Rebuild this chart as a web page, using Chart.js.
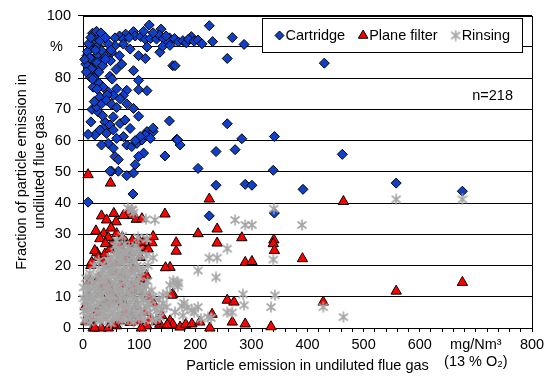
<!DOCTYPE html>
<html>
<head>
<meta charset="utf-8">
<script src="https://cdn.jsdelivr.net/npm/chart.js@4"></script>
<style>
  html, body { margin: 0; padding: 0; background: #fff; }
  #wrap { width: 559px; height: 378px; }
</style>
</head>
<body>
<div id="wrap"><canvas id="chart" width="559" height="378"></canvas></div>
<script>
// valores: [emision mg/Nm3, fraccion %]
const seriesNames = ['Cartridge', 'Plane filter', 'Rinsing'];

const cartridge = [
  [118,97.0],[139,95.7],[90,94.9],[76,94.1],[65,93.5],[57,92.9],[72,92.5],[93,93.5],[103,93.3],[111,92.5],
  [120,92.7],[131,92.5],[136,93.8],[143,92.7],[154,92.9],[163,92.7],[170,91.6],[152,91.4],[137,88.3],[160,84.0],
  [142,90.2],[114,90.0],[99,87.2],[111,86.3],[90,82.4],[99,79.3],[114,76.0],[99,76.3],[78,76.1],[59,82.8],
  [69,84.5],[49,85.6],[65,87.2],[51,88.3],[84,89.3],[72,90.9],[57,90.4],[45,88.3],[36,87.7],[30,85.6],
  [18,85.1],[10,84.0],[7,87.2],[13,89.3],[18,91.4],[21,93.5],[17,94.4],[27,90.4],[33,88.8],[24,87.2],
  [16,86.1],[21,82.4],[13,80.3],[27,78.7],[18,77.1],[36,77.1],[45,75.6],[54,74.5],[60,76.6],[72,74.5],
  [30,74.0],[5,84.5],[8,88.5],[12,86.5],[10,91],[15,83],[22,89],[25,85],[30,92],[14,93],
  [35,84],[40,86],[45,91],[50,89],[20,80],[28,82],[3,86],[6,82],[24,95],[32,94.5],
  [40,93],[193,93.3],[178,92],[184,91.3],[188,92.5],[198,91.8],[205,92.2],[212,91],[231,91.7],[225,96.8],
  [266,93],[287,90.8],[257,86.3],[164,84],[430,84.8],[155,90.5],[148,93.5],[125,94.5],[108,95],[82,93],
  [17,79.7],[25,76.5],[43,74.6],[48,80.6],[52,79.7],
  [16,70],[27,69.2],[24,70.8],[33,71.8],[42,72.9],[51,71.6],[60,70.6],[78,71.8],[90,70.3],[99,67.8],
  [66,73.4],[54,67.6],[39,66],[48,65],[36,63.9],[30,63.4],[21,61.8],[42,62.3],[54,63.4],[66,65.5],
  [75,66.6],[84,63.9],[72,61.3],[60,60.7],[45,59.1],[33,58.6],[54,57.6],[57,54.9],[63,53.9],[78,58.6],
  [87,58.1],[96,59.1],[105,60.2],[114,62.9],[125,62.9],[111,61.8],[102,61.3],[120,60.7],[108,56],[99,54.9],
  [93,52.3],[90,49.6],[78,48.8],[63,50.2],[51,50.2],[154,66.3],[146,55.1],[167,60.4],[173,58.6],[9,62],
  [14,66],[20,72.5],[35,68],[93,60],[125,64],
  [168,60.3],[257,65.4],[283,60.6],[341,61.3],[237,56.5],[271,57.1],[205,51.1],[339,50.5],[462,55.6],[237,45.7],
  [289,46],[301,45.7],[392,44.4],[225,35.9],[341,36.8],[558,46.4],[676,43.8],[9,40.3],[89,42.9],[48,50.2]
];

const planeFilter = [
  [9,49.1],[49,46.4],[225,41.3],[464,40.5],[33,35.9],[42,34.6],[55,36.7],[59,34],[79,36.5],[89,36],
  [95,34.8],[146,36.5],[23,31.1],[37,30.2],[30,28.6],[60,30.2],[77,27.3],[123,27.3],[125,29.3],[114,25.4],
  [166,27.3],[166,24.6],[205,30.2],[239,31.7],[239,27.2],[283,28.9],[340,28.2],[339,27],[341,24.8],[391,22.2],
  [289,21],[301,21.3],[155,19.4],[160,10.8],[25,24.1],[14,20],[52,27.4],[66,26.3],[93,26.9],[105,25.8],
  [116,25.3],[21,24.8],[27,22.6],[39,23.7],[48,25.3],[84,24.2],[102,22.6],[15.5,21],[36,20.9],[48,20.5],
  [147,19.3],[113,16.8],[99,15.5],[104,15.5],[102,13.7],[87,13.3],[158,10.5],[30,11.2],[66,11.2],[84,11.2],
  [51,11.2],[4,6.8],[30,6.8],[72,8.2],[107,15.9],[98,11.7],
  [18,0],[33,0],[60,0.7],[66,2.3],[84,1.8],[99,2.3],[114,0.7],[137,1.2],[155,2.3],[160,1.2],
  [104,0],[45,0],[54,1.2],[21,0],[173,0.3],[183,1.2],[194,1.3],[208,1.9],[226,0],[230,4.4],
  [266,1.9],[289,1.3],[335,0.4],[257,8.9],[269,8.3],[428,8.3],[558,11.8],[676,14.6],
  [10,10],[15,3],[25,5],[40,8],[45,14],[55,18],[62,21],[70,17],[75,5],[80,22],
  [90,19],[95,7],[110,5],[120,3],[125,8],[130,2],[140,4],[12,15],[28,16],[35,13],
  [58,9],[68,14],[85,4],[5,2],[150,1],[117,10],[75,23],[60,25],[88,28],[100,28],
  [108,27.5],[70,29],[45,29],[40,27],[50,32],[105,35],[72,36]
];

const rinsing = [
  [80,38.4],[88,37.8],[128,34.6],[113.5,28.6],[87,38],[90,36.9],[112,34.8],[340,38.2],[271,34.6],[289,33],
  [301,33],[390,33],[257,25.4],[225,22.5],[239,22.5],[339,21.9],[205,18.4],[237,16.2],[168,14.6],[169,13.3],
  [285,10.8],[342,10.5],[287,7.3],[335,6.7],[428,6.7],[464,3.5],[257,5],[266,5],[228,3.2],[558,41.2],
  [676,41.2],[170,14.3],[161,15.2],[155,13.7],[176,7],[180,8],[205,6.7],[194,5.7],[223,3.5],[143,7.9],
  [149,6.7],[132,5.7],[164,5.1],[137,3.5],[123,2.5],[116,20],[125,22.5],[113,23.2],[114,28.5],[90,24.2],
  [66,23],[186,6.5],[198,5],[178,4],[210,3],
  [3,2.5],[12,1.8],[22,3],[31,2.2],[41,2.8],[50,1.5],[60,3.2],[70,2.4],[80,2.9],[90,1.9],[100,3.1],[110,2.6],
  [2,5.5],[8,4.8],[17,6],[26,5.2],[35,4.6],[44,5.8],[53,5.1],[63,4.4],[72,5.9],[82,5.3],[92,4.7],[104,5.6],[118,4.9],[128,6.4],
  [4,8.5],[11,7.6],[20,9],[29,8.1],[38,7.4],[47,8.8],[56,7.9],[66,8.6],[75,7.2],[85,8.4],[96,7.7],[108,8.9],[120,7.5],
  [6,11.2],[14,10.4],[23,11.8],[32,10.6],[42,11.5],[51,10.2],[61,11.9],[70,10.8],[79,11.4],[89,10.5],[99,11.7],[112,10.9],
  [9,13.5],[18,14.6],[27,13.9],[36,14.9],[45,13.2],[55,14.4],[64,13.6],[74,14.8],[84,13.8],[94,14.3],[104,13.1],
  [24,16.8],[33,17.5],[42,16.4],[52,17.9],[61,16.9],[71,17.3],[80,16.6],[90,17.8],[100,16.2],
  [38,19.6],[47,20.5],[56,19.8],[66,20.9],[75,19.4],[85,20.3],[96,19.9],
  [50,22.8],[59,23.6],[68,22.4],[78,23.9],[88,22.6],[102,23.4],
  [57,26.2],[65,25.5],[74,26.8],[82,25.9],[94,26.4],
  [1,9.5],[1,13],[5,16],[12,17.5],[20,20],[28,21.5],[107,19],[115,15],[122,12],[135,9],
  [142,10.5],[150,11],[60,28],[70,29.5],[98,29],
  [7,3.5],[16,3.9],[26,3.4],[36,3.8],[46,3.6],[55,3.3],[65,3.9],[75,3.7],[85,3.4],[95,3.8],[105,4.1],
  [5,7],[14,6.6],[24,7.2],[33,6.4],[42,6.9],[51,7.1],[61,6.5],[70,7.3],[80,6.8],[90,6.3],[100,7],[113,6.8],
  [8,10],[17,9.6],[26,10.2],[36,9.3],[46,10.1],[56,9.8],[65,10.3],[75,9.5],[84,10.1],[94,9.4],[104,10],
  [12,12.6],[21,12.8],[30,12.2],[40,12.9],[49,12.4],[58,12.7],[68,12.1],[78,12.8],[88,12.3],[98,12.9],[108,12.4],
  [15,15.5],[30,15.6],[39,15.2],[48,15.8],[58,15.4],[67,15.9],[77,15.3],[87,15.7],[97,15.1],
  [35,18.5],[45,18.3],[55,18.8],[64,18.4],[73,18.7],[83,18.2],[93,18.6],[103,18.1],
  [44,21.7],[54,21.4],[63,21.9],[72,21.3],[81,21.8],[92,21.5],
  [62,24.6],[71,24.2],[80,24.8],[90,24.4],[99,24.9],
  [115,8],[125,10],[130,3],[140,6],[112,13.5]
];

const yUnitLabel = '%';
const xUnitLabel = ['mg/Nm\u00B3', '(13 % O\u2082)'];
const xTitle = 'Particle emission in undiluted flue gas';
const yTitle = ['Fraction of particle emission in', 'undiluted flue gas'];
const sampleNote = 'n=218';

const FONT = 'Liberation Sans, Arial, sans-serif';
const font = { family: FONT, size: 14.5 };

const toPts = arr => arr.map(p => ({ x: p[0], y: p[1] }));

// marcador asterisco (X + linea vertical) como en Excel
const asterisk = document.createElement('canvas');
asterisk.width = 12; asterisk.height = 12;
(function () {
  const c = asterisk.getContext('2d');
  c.strokeStyle = '#a6a6a6';
  c.lineWidth = 1.6;
  c.beginPath();
  c.moveTo(1.5, 2.5); c.lineTo(10.5, 9.5);
  c.moveTo(1.5, 9.5); c.lineTo(10.5, 2.5);
  c.moveTo(6, 0.5); c.lineTo(6, 11.5);
  c.stroke();
})();

function drawMarker(ctx, kind, x, y) {
  ctx.save();
  ctx.lineWidth = 1;
  ctx.strokeStyle = '#000';
  if (kind === 0) {
    ctx.fillStyle = '#1040c8';
    ctx.beginPath();
    ctx.moveTo(x, y - 4.5); ctx.lineTo(x + 4.5, y); ctx.lineTo(x, y + 4.5); ctx.lineTo(x - 4.5, y);
    ctx.closePath(); ctx.fill(); ctx.stroke();
  } else if (kind === 1) {
    ctx.fillStyle = '#ff0000';
    ctx.beginPath();
    ctx.moveTo(x, y - 5.5); ctx.lineTo(x + 4.8, y + 2.75); ctx.lineTo(x - 4.8, y + 2.75);
    ctx.closePath(); ctx.fill(); ctx.stroke();
  } else {
    ctx.drawImage(asterisk, x - 6, y - 6);
  }
  ctx.restore();
}

// marco, leyenda dentro del area y nota n=
const extras = {
  id: 'extras',
  beforeDatasetsDraw(chart) {
    const { ctx, chartArea: a } = chart;
    ctx.save();
    ctx.strokeStyle = '#000';
    ctx.lineWidth = 1;
    ctx.strokeRect(Math.round(a.left) + 0.5, Math.round(a.top) + 0.5,
      Math.round(a.right) - Math.round(a.left), Math.round(a.bottom) - Math.round(a.top));
    ctx.restore();
  },
  afterDatasetsDraw(chart) {
    const { ctx, chartArea: a } = chart;
    ctx.save();
    // caja de leyenda
    const bx = 262.5, by = 18.5, bw = 260, bh = 34;
    ctx.fillStyle = '#fff';
    ctx.fillRect(bx, by, bw, bh);
    ctx.strokeStyle = '#000';
    ctx.lineWidth = 1;
    ctx.strokeRect(bx, by, bw, bh);
    ctx.font = '14.5px ' + FONT;
    ctx.textBaseline = 'middle';
    ctx.fillStyle = '#000';
    let x = bx + 17;
    const y = by + bh / 2;
    seriesNames.forEach((name, i) => {
      drawMarker(ctx, i, x, y);
      ctx.fillStyle = '#000';
      ctx.textAlign = 'left';
      ctx.fillText(name, x + 6, y);
      x += 6 + ctx.measureText(name).width + 18;
    });
    // n=218
    ctx.textAlign = 'right';
    ctx.fillText(sampleNote, a.right - 19, a.top + 80);
    ctx.restore();
  }
};

new Chart(document.getElementById('chart'), {
  type: 'scatter',
  data: {
    datasets: [
      { label: seriesNames[0], data: toPts(cartridge), pointStyle: 'rectRot', pointRadius: 5,
        backgroundColor: '#1040c8', borderColor: '#000', borderWidth: 1, order: 3, clip: false },
      { label: seriesNames[1], data: toPts(planeFilter), pointStyle: 'triangle', pointRadius: 6,
        backgroundColor: '#ff0000', borderColor: '#000', borderWidth: 1, order: 2, clip: false },
      { label: seriesNames[2], data: toPts(rinsing), pointStyle: asterisk, pointRadius: 6,
        order: 1, clip: false }
    ]
  },
  options: {
    responsive: false,
    animation: false,
    events: [],
    layout: { padding: { left: 5, top: 13, right: 27, bottom: 0 } },
    plugins: { legend: { display: false }, tooltip: { enabled: false } },
    scales: {
      x: {
        type: 'linear', min: 0, max: 800, position: 'bottom',
        afterFit(s) { s.height = 50; },
        grid: { drawOnChartArea: false, drawTicks: true, tickLength: 4, color: '#000' },
        border: { color: '#000', width: 1 },
        ticks: {
          stepSize: 20, autoSkip: false, maxRotation: 0, minRotation: 0, padding: 4,
          color: '#000', font: font,
          callback(v) {
            if (v % 100 !== 0) return '';
            return v === 700 ? xUnitLabel : String(v);
          }
        },
        title: { display: true, text: xTitle, color: '#000', font: font, padding: { top: 0, bottom: 3 } }
      },
      y: {
        min: 0, max: 100,
        afterFit(s) { s.width = 78; },
        grid: { color: '#000', tickLength: 5 },
        border: { color: '#000', width: 1 },
        ticks: {
          stepSize: 10, padding: 7, color: '#000', font: font,
          callback(v) { return v === 90 ? yUnitLabel + '  ' : String(v); }
        },
        title: { display: true, text: yTitle, color: '#000',
          font: { family: FONT, size: 14.5, lineHeight: 1.25 }, padding: { top: 8, bottom: 0 } }
      }
    }
  },
  plugins: [extras]
});
</script>
</body>
</html>
